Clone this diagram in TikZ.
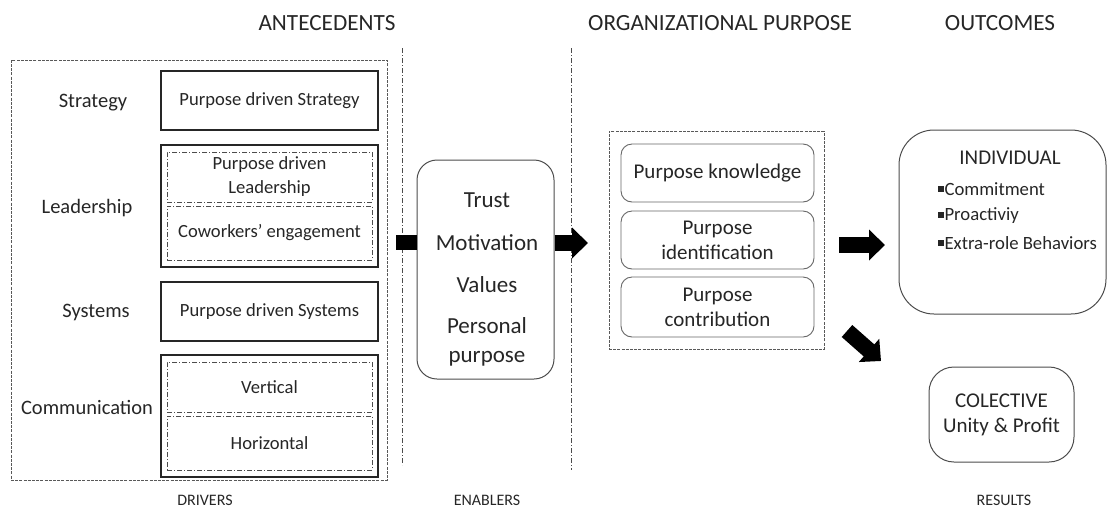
\documentclass[tikz,border=0pt]{standalone}
\usepackage{fontspec}
\setmainfont{Carlito}
\usetikzlibrary{arrows.meta,positioning}

\newcommand{\sq}{\raisebox{3pt}{\rule{6pt}{6pt}}\hspace{1pt}}

\begin{document}
\begin{tikzpicture}[x=1pt, y=-1pt]
  \tikzstyle{solidbox}=[rectangle, draw=black!85, line width=1.2pt, minimum width=217pt, minimum height=59pt, font=\fontsize{18.6}{21}\selectfont, align=center, text=black!85]
  \tikzstyle{dotbox}=[rectangle, draw=black!70, line width=0.7pt, dash pattern=on 5pt off 2pt on 1pt off 2pt, minimum width=205pt, font=\fontsize{18.6}{21}\selectfont, align=center, text=black!85]
  \tikzstyle{groupbox}=[rectangle, draw=black!65, line width=0.7pt, dash pattern=on 3pt off 1.2pt]
  \tikzstyle{softbox}=[rectangle, rounded corners=11pt, draw=black!60, line width=0.9pt, minimum width=193pt, minimum height=58pt, font=\fontsize{21}{25}\selectfont, align=center, text=black!85]
  \tikzstyle{roundbox}=[rectangle, draw=black!70, line width=1pt, text=black!85]
  \tikzstyle{rowlabel}=[font=\fontsize{20.5}{22}\selectfont, text=black!85]
  \tikzstyle{title}=[font=\fontsize{23.2}{26}\selectfont, text=black!85]
  \tikzstyle{foot}=[font=\fontsize{16}{18}\selectfont, text=black!85]
  \tikzstyle{enabtext}=[font=\fontsize{23}{26}\selectfont, text=black!85]
  \tikzstyle{divider}=[draw=black!70, line width=0.7pt, dash pattern=on 5pt off 2pt on 1pt off 2pt]
  \tikzstyle{fatarrow}=[line width=16pt, -{Triangle[length=16pt, width=30pt]}]

  \useasboundingbox (0,0) rectangle (1108,507);

  % Titulos
  \node[title] (tant) at (327,23) {ANTECEDENTS};
  \node[title] (torg) at (720,23) {ORGANIZATIONAL PURPOSE};
  \node[title] (tout) at (1000,23) {OUTCOMES};

  % Drivers
  \node[groupbox, minimum width=376pt, minimum height=420pt] (drivers) at (199,270) {};
  \node[solidbox] (strat) at (269.5,100.5) {Purpose driven Strategy};
  \node[solidbox, minimum height=122pt] (lead) at (269.5,206) {};
  \node[dotbox, minimum height=50pt, font=\fontsize{18.6}{24}\selectfont] (leadA) at (269.5,177) {Purpose driven\\Leadership};
  \node[dotbox, minimum height=54pt] (leadB) at (269.5,233) {Coworkers’ engagement};
  \node[solidbox] (syst) at (269.5,311.5) {Purpose driven Systems};
  \node[solidbox, minimum height=122pt] (comm) at (269.5,416) {};
  \node[dotbox, minimum height=50pt] (commA) at (269.5,387) {Vertical};
  \node[dotbox, minimum height=54pt] (commB) at (269.5,443) {Horizontal};

  \node[rowlabel] (lstrat) at (93,103) {Strategy};
  \node[rowlabel] (llead) at (87,208) {Leadership};
  \node[rowlabel] (lsyst) at (96,312) {Systems};
  \node[rowlabel] (lcomm) at (87,407) {Communication};

  % Separadores
  \coordinate (sepAtop) at (402,48);
  \coordinate (sepAbot) at (402,465);
  \coordinate (sepBtop) at (571,48);
  \coordinate (sepBbot) at (571,470);
  \draw[divider] (sepAtop) -- (sepAbot);
  \draw[divider] (sepBtop) -- (sepBbot);

  % Enablers
  \node[roundbox, rounded corners=20pt, minimum width=137pt, minimum height=219pt] (enab) at (485.5,269.5) {};
  \node[enabtext] (trust) at (487,200) {Trust};
  \node[enabtext] (motiv) at (487,243) {Motivation};
  \node[enabtext] (vals) at (487,285) {Values};
  \node[enabtext, align=center, font=\fontsize{23}{29}\selectfont] (perso) at (487,342) {Personal\\purpose};

  % Organizational purpose
  \node[groupbox, minimum width=215pt, minimum height=218pt] (org) at (716.5,240) {};
  \node[softbox] (know) at (717.5,173) {Purpose knowledge};
  \node[softbox] (ident) at (717.5,240) {Purpose\\identification};
  \node[softbox, minimum height=60pt] (contr) at (717.5,307) {Purpose\\contribution};

  % Outcomes
  \node[roundbox, rounded corners=35pt, minimum width=207pt, minimum height=184pt] (indiv) at (1002.5,222) {};
  \node[font=\fontsize{21}{24}\selectfont, text=black!85] (indtitle) at (1010,158) {INDIVIDUAL};
  \node[anchor=west, font=\fontsize{18.7}{20}\selectfont, text=black!85] (commit) at (934,189) {\sq Commitment};
  \node[anchor=west, font=\fontsize{18.7}{20}\selectfont, text=black!85] (proact) at (934,216) {\sq Proactiviy};
  \node[anchor=west, font=\fontsize{18.7}{20}\selectfont, text=black!85] (extra) at (934,243) {\sq Extra-role Behaviors};
  \node[roundbox, rounded corners=25pt, minimum width=145pt, minimum height=95pt, align=center, font=\fontsize{21}{25}\selectfont] (colec) at (1001.5,414.5) {COLECTIVE\\Unity \& Profit};

  % Flechas
  \coordinate (barA) at (396,242);
  \coordinate (tipB) at (588,243);
  \coordinate (tailC) at (839,245);
  \coordinate (tipC) at (885,245);
  \coordinate (tailD) at (847,331);
  \coordinate (tipD) at (881,361);
  \draw[line width=15pt, black] (barA) -- (enab.west |- barA);
  \draw[fatarrow] (enab.east |- tipB) -- (tipB);
  \draw[fatarrow] (tailC) -- (tipC);
  \draw[fatarrow] (tailD) -- (tipD);

  % Pies
  \node[foot] (fdriv) at (205,500) {DRIVERS};
  \node[foot] (fenab) at (487,500) {ENABLERS};
  \node[foot] (fres) at (1004,500) {RESULTS};
\end{tikzpicture}
\end{document}
